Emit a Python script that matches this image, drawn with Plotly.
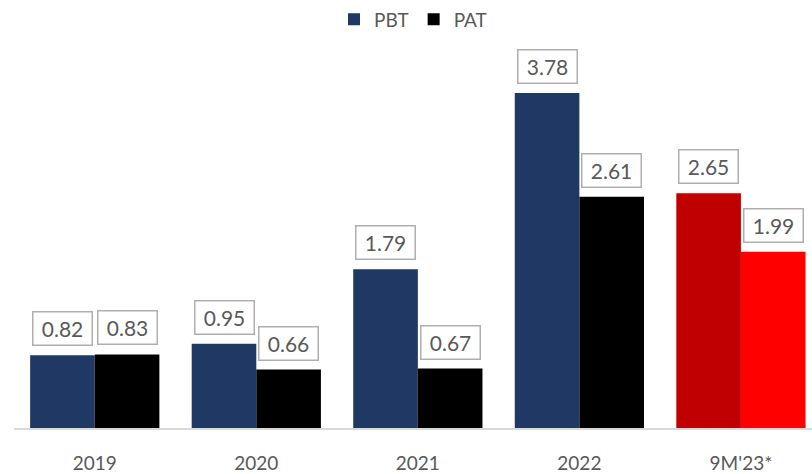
import plotly.graph_objects as go

categories = ["2019", "2020", "2021", "2022", "9M'23*"]
pbt = [0.82, 0.95, 1.79, 3.78, 2.65]
pat = [0.83, 0.66, 0.67, 2.61, 1.99]

pbt_colors = ["#1F3864"] * 4 + ["#C00000"]
pat_colors = ["#000000"] * 4 + ["#FF0000"]

FONT = "Lato"
TXT = "#595959"

xs = list(range(len(categories)))

fig = go.Figure()
fig.add_trace(go.Bar(x=xs, y=pbt, name="PBT", marker=dict(color=pbt_colors, line_width=0)))
fig.add_trace(go.Bar(x=xs, y=pat, name="PAT", marker=dict(color=pat_colors, line_width=0)))

# boxed value labels above each bar
for offset, vals in ((-0.2, pbt), (0.2, pat)):
    for i, v in enumerate(vals):
        fig.add_annotation(
            x=i + offset, y=v, xref="x", yref="y",
            text=f"{v:.2f}", showarrow=False,
            yanchor="bottom", yshift=9,
            width=54, height=28,
            font=dict(family=FONT, size=21, color=TXT),
            bgcolor="white", bordercolor="#AFAFAF", borderwidth=1.5, borderpad=2,
        )

fig.update_layout(
    width=812, height=474,
    margin=dict(l=14, r=0, t=42, b=43),
    barmode="group", bargap=0.2, bargroupgap=0,
    plot_bgcolor="white", paper_bgcolor="white",
    font=dict(family=FONT, color=TXT),
    legend=dict(orientation="h", x=0.5, xanchor="center", y=1.064,
                yanchor="middle", font=dict(size=19, color=TXT), traceorder="normal",
                itemwidth=30),
    showlegend=True,
)
fig.update_xaxes(
    range=[-0.5, 4.44], tickvals=xs, ticktext=categories,
    showline=True, linecolor="#D9D9D9", linewidth=1.5,
    showgrid=False, zeroline=False, ticks="",
    tickfont=dict(size=19, color=TXT), ticklabelstandoff=17,
)
fig.update_yaxes(range=[0, 4.333], visible=False, showgrid=False, zeroline=False)

fig.write_html("out.html", config={"displayModeBar": False},
               post_script="document.body.style.margin='0';")
